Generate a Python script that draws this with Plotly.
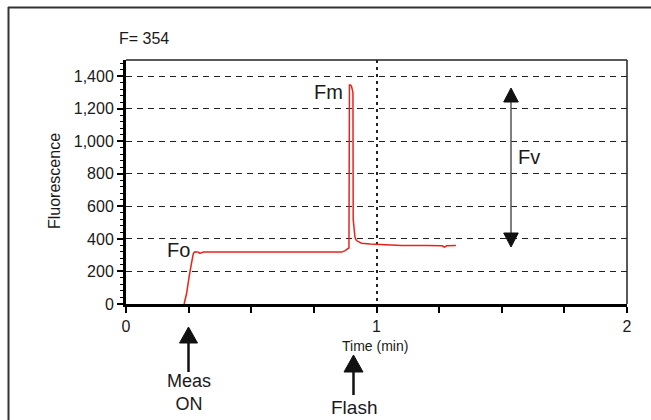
import plotly.graph_objects as go

# ---- data ----
time_min = [0.232, 0.242, 0.252, 0.258, 0.264, 0.269, 0.275, 0.289, 0.295, 0.309,
            0.50, 0.70, 0.861, 0.875, 0.884, 0.890, 0.892, 0.896, 0.900, 0.906,
            0.907, 0.910, 0.914, 0.920, 0.940, 0.975, 1.000, 1.040, 1.100, 1.200,
            1.262, 1.271, 1.280, 1.317]
fluorescence = [0, 66, 168, 230, 272, 311, 321, 319, 311, 319,
                319, 319, 319, 328, 338, 345, 1346, 1346, 1340, 1300,
                520, 440, 410, 390, 374, 369, 367, 360, 359, 359,
                358, 349, 358, 359]
y_ticks = [0, 200, 400, 600, 800, 1000, 1200, 1400]
x_ticks = [0, 1, 2]
x_labels = ["0", "1", "2"]

FONT = "Liberation Sans, Arial, sans-serif"
INK = "#1a1a1a"
W, H = 651, 420
ML, MR, MT, MB = 126, 24, 60, 116
PW, PH = W - ML - MR, H - MT - MB


def px(x):
    return (x - ML) / PW


def py(y):
    return (H - MB - y) / PH


fig = go.Figure()
fig.add_trace(go.Scatter(x=time_min, y=fluorescence, mode="lines",
                         line=dict(color="#e8231c", width=1.5), hoverinfo="skip",
                         showlegend=False))

fig.update_layout(
    width=W, height=H,
    margin=dict(l=ML, r=MR, t=MT, b=MB),
    paper_bgcolor="white", plot_bgcolor="white",
    font=dict(family=FONT, size=16, color=INK),
    showlegend=False,
)
fig.update_xaxes(
    range=[0, 2], tickvals=x_ticks, ticktext=x_labels,
    showline=True, linecolor="black", linewidth=3,
    ticks="outside", ticklen=6, tickwidth=1.5, tickcolor="black",
    minor=dict(dtick=0.25, ticks="outside", ticklen=6, tickwidth=1.5, tickcolor="black", showgrid=False),
    showgrid=True, gridcolor="#222", gridwidth=1.5, griddash="3px,4px",
    zeroline=False, tickfont=dict(size=16, family=FONT, color=INK),
)
fig.update_yaxes(
    range=[0, 1500], tickvals=y_ticks, tickformat=",d",
    showline=True, linecolor="black", linewidth=3,
    ticks="outside", ticklen=6, tickwidth=1.5, tickcolor="black",
    minor=dict(dtick=40, ticks="outside", ticklen=3, tickwidth=1, tickcolor="black", showgrid=False),
    showgrid=True, gridcolor="#222", gridwidth=1.3, griddash="6px,5px",
    zeroline=False, tickfont=dict(size=16, family=FONT, color=INK),
)

shapes = []
# plot frame top/right (thin)
shapes.append(dict(type="line", xref="paper", yref="paper", x0=0, y0=1, x1=1, y1=1,
                   line=dict(color="#222", width=1.5)))
shapes.append(dict(type="line", xref="paper", yref="paper", x0=1, y0=0, x1=1, y1=1,
                   line=dict(color="#222", width=1.5)))
# outer border (left & top)
shapes.append(dict(type="line", xref="paper", yref="paper", x0=px(8), y0=py(7.5), x1=px(660), y1=py(7.5),
                   line=dict(color="#333", width=2)))
shapes.append(dict(type="line", xref="paper", yref="paper", x0=px(8.5), y0=py(7), x1=px(8.5), y1=py(430),
                   line=dict(color="#333", width=2)))


def arrow_up(cx, tip, base, hw, tail, width, color):
    shapes.append(dict(type="line", xref="paper", yref="paper", x0=px(cx), y0=py(base), x1=px(cx), y1=py(tail),
                       line=dict(color=color, width=width)))
    shapes.append(dict(type="path", xref="paper", yref="paper",
                       path=f"M{px(cx - hw)},{py(base)} L{px(cx + hw)},{py(base)} L{px(cx)},{py(tip)} Z",
                       fillcolor="#111", line=dict(color="#111", width=1)))


def head_down(cx, tip, base, hw):
    shapes.append(dict(type="path", xref="paper", yref="paper",
                       path=f"M{px(cx - hw)},{py(base)} L{px(cx + hw)},{py(base)} L{px(cx)},{py(tip)} Z",
                       fillcolor="#111", line=dict(color="#111", width=1)))


# Meas ON arrow
arrow_up(188.5, 327, 343, 9, 372, 2.5, "#111")
# Flash arrow
arrow_up(353.5, 355, 372, 9.5, 395, 2.5, "#111")
# Fv double arrow
arrow_up(511, 88, 102, 7.3, 233, 1.5, "#555")
head_down(511, 247, 233, 7.3)

fig.update_layout(shapes=shapes)

ann = []


def label(text, x, y, size, xanchor="center", angle=0):
    ann.append(dict(text=text, x=px(x), y=py(y), xref="paper", yref="paper", showarrow=False,
                    xanchor=xanchor, yanchor="middle", textangle=angle,
                    font=dict(size=size, family=FONT, color=INK)))


label("F= 354", 117, 39, 16, xanchor="left")
label("Fluorescence", 54, 181, 16, angle=-90)
label("Time (min)", 375, 346, 14)
label("Fm", 312, 92, 20, xanchor="left")
label("Fo", 165, 250, 20, xanchor="left")
label("Fv", 516, 157, 20, xanchor="left")
label("Meas<br>ON", 189, 392.5, 18)
label("Flash", 354, 407, 19)

fig.update_layout(annotations=ann)

fig.write_html("out.html", config={"displayModeBar": False},
               post_script="document.body.style.margin='0';document.body.style.overflow='hidden';")
